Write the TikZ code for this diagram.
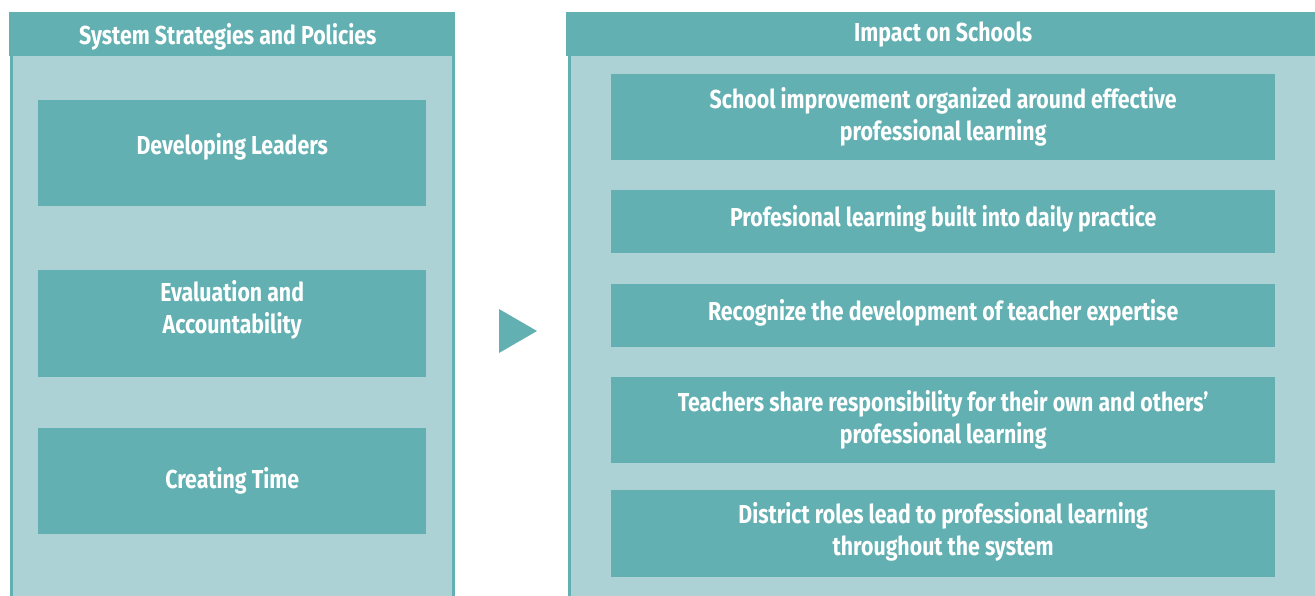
\documentclass[tikz,border=0pt]{standalone}
\usepackage{fontspec}
\setmainfont[FakeStretch=0.82]{Fira Sans}
\usetikzlibrary{positioning}
\definecolor{tealdark}{HTML}{62B0B2}
\definecolor{teallight}{HTML}{ACD2D5}
\tikzset{
	panel/.style={draw=tealdark, line width=3pt, fill=teallight, anchor=north west, inner sep=0pt},
	head/.style={fill=tealdark, text=white, anchor=north west, inner sep=0pt,
		font=\bfseries\fontsize{26}{32}\selectfont},
	item/.style={fill=tealdark, text=white, anchor=north west, inner sep=0pt, align=center,
		font=\bfseries\fontsize{26}{32}\selectfont},
}

\begin{document}
\begin{tikzpicture}[x=1pt, y=-1pt]
	\useasboundingbox (0,0) rectangle (1315,595);
	% left panel
	\node[panel, minimum width=442, minimum height=600] (left) at (9.5,12) {};
	\node[head, minimum width=443, minimum height=44, text height=26pt] (lefthead) at (9,12) {\hspace*{-6pt}System Strategies and Policies};
	\node[item, minimum width=388, minimum height=106, text depth=18pt] (lead) at (38,100) {Developing Leaders};
	\node[item, minimum width=388, minimum height=107, text depth=34pt] (eval) at (38,270) {Evaluation and\\Accountability};
	\node[item, minimum width=388, minimum height=106] (time) at (38,428) {Creating Time};
	%
	\fill[tealdark] (499,309) -- (537,331) -- (499,353) -- cycle;
	% right panel
	\node[panel, minimum width=760, minimum height=600] (right) at (567.5,12) {};
	\node[head, minimum width=760, minimum height=44] (righthead) at (566,12) {\hspace*{-6pt}Impact on Schools};
	\node[item, minimum width=664, minimum height=86] (improve) at (611,74) {School improvement organized around effective\\professional learning};
	\node[item, minimum width=664, minimum height=63, text depth=12pt] (daily) at (611,190) {Profesional learning built into daily practice};
	\node[item, minimum width=664, minimum height=63, text depth=12pt] (expert) at (611,284) {Recognize the development of teacher expertise};
	\node[item, minimum width=664, minimum height=86] (share) at (611,377) {Teachers share responsibility for their own and others’\\professional learning};
	\node[item, minimum width=664, minimum height=87, text depth=10pt] (district) at (611,490) {District roles lead to professional learning\\throughout the system};
\end{tikzpicture}
\end{document}
